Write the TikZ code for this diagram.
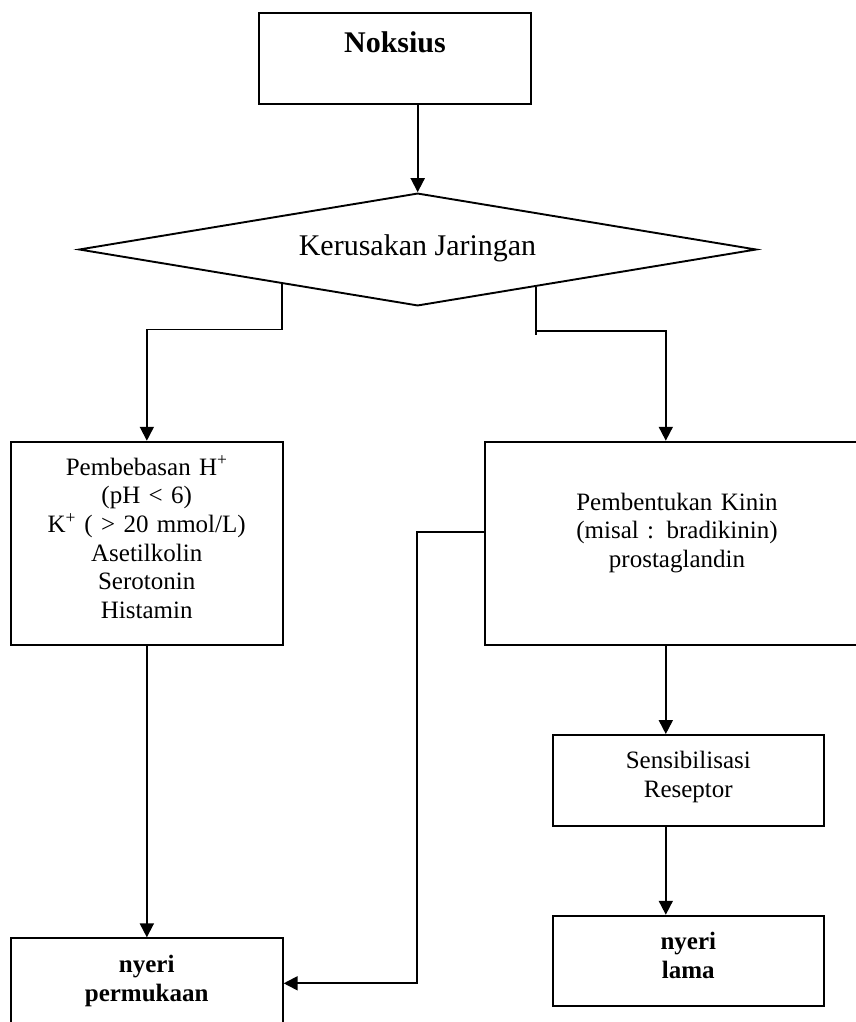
\documentclass[tikz,border=0pt]{standalone}
\usepackage{fontspec}
\setmainfont{Liberation Serif}
\usetikzlibrary{shapes.geometric,arrows.meta,calc}
\tikzset{
  box/.style={draw, rectangle, line width=1.9pt, inner sep=0pt},
  dbox/.style={draw, diamond, line width=1.9pt, inner sep=0pt},
  conn/.style={line width=1.8pt},
  arr/.style={line width=1.8pt, -{Triangle[length=14pt,width=14pt]}},
  big/.style={font=\fontsize{30}{34}\selectfont, inner sep=0pt},
  txt/.style={font=\fontsize{25}{28.7}\selectfont, inner sep=0pt, align=center, text width=265pt},
  btxt/.style={font=\fontsize{25}{28.7}\selectfont\bfseries, inner sep=0pt, align=center, text width=265pt}
}
\begin{document}
\begin{tikzpicture}[x=1pt,y=-1pt]
\useasboundingbox (0,0) rectangle (856,1022);
\clip (0,0) rectangle (856,1022);
% boxes
\node[box, minimum width=271.7pt, minimum height=90.4pt] (nox) at (394.85,58.5) {};
\node[dbox, minimum width=677.4pt, minimum height=112.7pt] (dia) at (417.7,249.5) {};
\node[box, minimum width=271.7pt, minimum height=203.3pt] (lbox) at (146.85,543.35) {};
\node[box, minimum width=384pt, minimum height=203.3pt] (rbox) at (677,543.35) {};
\node[box, minimum width=271.3pt, minimum height=90.7pt] (sbox) at (688.35,780.35) {};
\node[box, minimum width=271.3pt, minimum height=90pt] (lama) at (688.35,960.7) {};
\node[box, minimum width=271.7pt, minimum height=90pt] (pbox) at (146.85,983.3) {};
% texts
\node[big, font=\fontsize{30}{34}\selectfont\bfseries, anchor=base] (tnox) at (395,52.3) {Noksius};
\node[big, anchor=base] (tdia) at (417.5,255.7) {Kerusakan Jaringan};
\node[txt, anchor=base] (tl) at (146.7,475) {Pembebasan H\textsuperscript{+}\\(pH < 6)\\K\textsuperscript{+} ( > 20 mmol/L)\\Asetilkolin\\Serotonin\\Histamin};
\node[txt, anchor=base] (tr) at (677,510) {Pembentukan Kinin\\(misal : bradikinin)\\prostaglandin};
\node[txt, anchor=base] (ts) at (688.3,768.3) {Sensibilisasi\\Reseptor};
\node[btxt, anchor=base] (tlama) at (688.3,949.3) {nyeri\\lama};
\node[btxt, anchor=base] (tp) at (146.7,972.7) {nyeri\\permukaan};
% connection points
\coordinate (dl) at ($(dia.west)!0.6!(dia.south)$);
\coordinate (dr) at ($(dia.south)!0.348!(dia.east)$);
\coordinate (rtop) at ($(rbox.north west)!0.471!(rbox.north east)$);
\coordinate (rbot) at ($(rbox.south west)!0.471!(rbox.south east)$);
\coordinate (rl) at ($(rbox.north west)!0.446!(rbox.south west)$);
% connectors
\draw[arr] (nox.south -| dia.north) -- (dia.north);
\draw[arr] (dl) -- ++(0,45.7) -| (lbox.north);
\draw[conn] (dr) -- ++(0,48.6);
\draw[arr] ($(dr)+(0,44.3)$) -| (rtop);
\draw[arr] (lbox.south) -- (pbox.north);
\draw[arr] (rl) -- ++(-67.3,0) |- (pbox.east);
\draw[arr] (rbot) -- (rbot |- sbox.north);
\draw[arr] (sbox.south -| rbot) -- (lama.north -| rbot);
\end{tikzpicture}
\end{document}
